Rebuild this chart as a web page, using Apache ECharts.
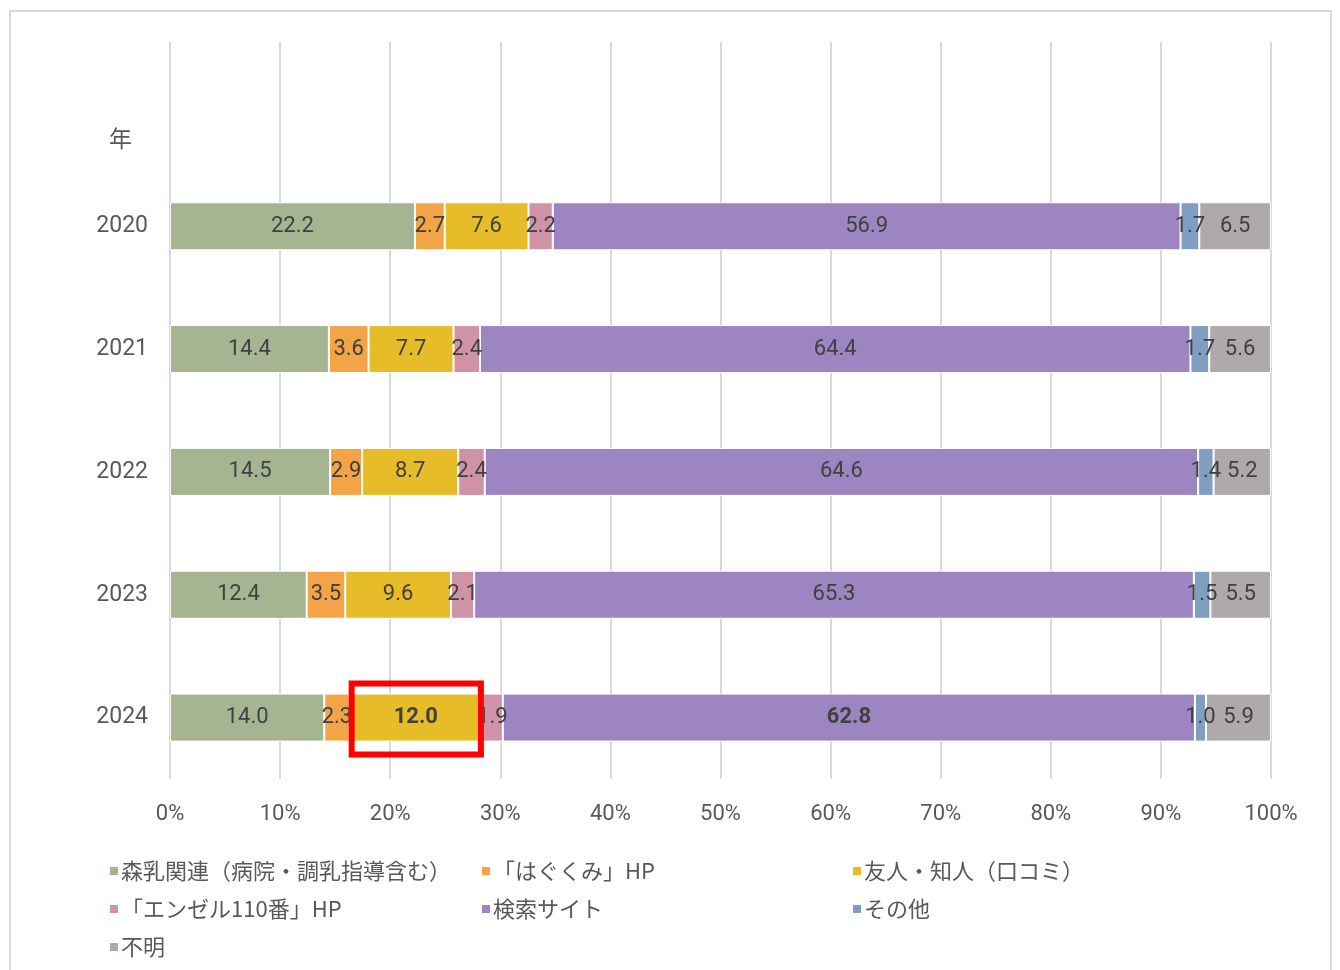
<!DOCTYPE html>
<html>
<head>
<meta charset="utf-8">
<script src="https://cdn.jsdelivr.net/npm/echarts@6/dist/echarts.min.js"></script>
<style>
html, body { margin: 0; padding: 0; background: #fff; }
#frame { position: absolute; left: 9px; top: 10px; width: 1323px; height: 970px; border: 2px solid #d9d9d9; border-bottom: none; box-sizing: border-box; }
#chart { position: absolute; left: 0; top: 0; width: 1340px; height: 970px; }
</style>
</head>
<body>
<div id="frame"></div>
<div id="chart"></div>
<script>
// 年
var years = ['2020', '2021', '2022', '2023', '2024'];
// 各項目の割合（%）
var morinyu = [22.2, 14.4, 14.5, 12.4, 14.0];
var hagukumi = [2.7, 3.6, 2.9, 3.5, 2.3];
var yujin = [7.6, 7.7, 8.7, 9.6, 12.0];
var angel = [2.2, 2.4, 2.4, 2.1, 1.9];
var kensaku = [56.9, 64.4, 64.6, 65.3, 62.8];
var sonota = [1.7, 1.7, 1.4, 1.5, 1.0];
var fumei = [6.5, 5.6, 5.2, 5.5, 5.9];

var names = ['森乳関連（病院・調乳指導含む）', '「はぐくみ」HP', '友人・知人（口コミ）', '「エンゼル110番」HP', '検索サイト', 'その他', '不明'];
var values = [morinyu, hagukumi, yujin, angel, kensaku, sonota, fumei];
var colors = ['#a5b592', '#f3a447', '#e7bc29', '#d092a7', '#9c85c0', '#809ec2', '#aeaaaa'];
// 太字で強調するデータ（2024年）
var boldYear = '2024';
var boldNames = ['友人・知人（口コミ）', '検索サイト'];
var boxName = '友人・知人（口コミ）';

var fontNum = 'Roboto, "Noto Sans CJK JP", sans-serif';
var fontJp = '"Noto Sans CJK JP", sans-serif';

// 100%積み上げ用の合計
var totals = years.map(function (y, j) {
	var s = 0;
	values.forEach(function (arr) { s += arr[j]; });
	return s;
});

var myChart = echarts.init(document.getElementById('chart'));

var series = names.map(function (name, i) {
	var data = [null];
	values[i].forEach(function (v, j) {
		var item = { value: v * 100 / totals[j], raw: v };
		if (years[j] == boldYear && boldNames.indexOf(name) >= 0) {
			item.label = { fontWeight: 'bold' };
		}
		data.push(item);
	});
	return {
		type: 'bar',
		name: name,
		stack: 'total',
		barWidth: 48,
		itemStyle: { color: colors[i], borderColor: '#fff', borderWidth: 1 },
		label: {
			show: true,
			position: 'inside',
			color: '#404040',
			fontSize: 22,
			fontFamily: fontNum,
			formatter: function (p) { return p.data == null ? '' : p.data.raw.toFixed(1); }
		},
		data: data
	};
});

var legendBase = {
	orient: 'vertical',
	icon: 'rect',
	itemWidth: 10,
	itemHeight: 10,
	itemGap: 16,
	textStyle: { color: '#595959', fontSize: 22, fontFamily: fontJp, padding: [0, 0, 0, -3] }
};

var option = {
	animation: false,
	color: colors,
	grid: { left: 170, right: 69, top: 42, bottom: 191 },
	xAxis: {
		type: 'value',
		min: 0,
		max: 100,
		interval: 10,
		axisLine: { show: false },
		axisTick: { show: false },
		axisLabel: { color: '#595959', fontSize: 22, fontFamily: fontNum, margin: 24, formatter: '{value}%' },
		splitLine: { lineStyle: { color: '#d9d9d9', width: 2 } }
	},
	yAxis: {
		type: 'category',
		inverse: true,
		data: [''].concat(years),
		axisLine: { show: false },
		axisTick: { show: false },
		axisLabel: { color: '#595959', fontSize: 23, fontFamily: fontNum, margin: 22 }
	},
	legend: [
		Object.assign({ left: 103, top: 855, data: [names[0], names[3], names[6]] }, legendBase),
		Object.assign({ left: 475, top: 855, data: [names[1], names[4]] }, legendBase),
		Object.assign({ left: 846, top: 855, data: [names[2], names[5]] }, legendBase)
	],
	series: series
};
myChart.setOption(option);

// 2024年「友人・知人」を赤枠で囲む
var bi = names.indexOf(boxName);
var yi = years.indexOf(boldYear);
var start = 0;
for (var k = 0; k < bi; k++) start += values[k][yi] * 100 / totals[yi];
var end = start + values[bi][yi] * 100 / totals[yi];
var p0 = myChart.convertToPixel({ gridIndex: 0 }, [start, boldYear]);
var p1 = myChart.convertToPixel({ gridIndex: 0 }, [end, boldYear]);
myChart.setOption({
	graphic: [{
		type: 'text',
		left: 109,
		top: 127,
		style: { text: '年', fill: '#595959', font: '23px ' + fontJp }
	}, {
		type: 'rect',
		shape: { x: p0[0] + 2, y: p0[1] - 34, width: p1[0] - p0[0] - 3, height: 71 },
		style: { fill: null, stroke: '#ff0000', lineWidth: 6 },
		z: 100
	}]
});
</script>
</body>
</html>
